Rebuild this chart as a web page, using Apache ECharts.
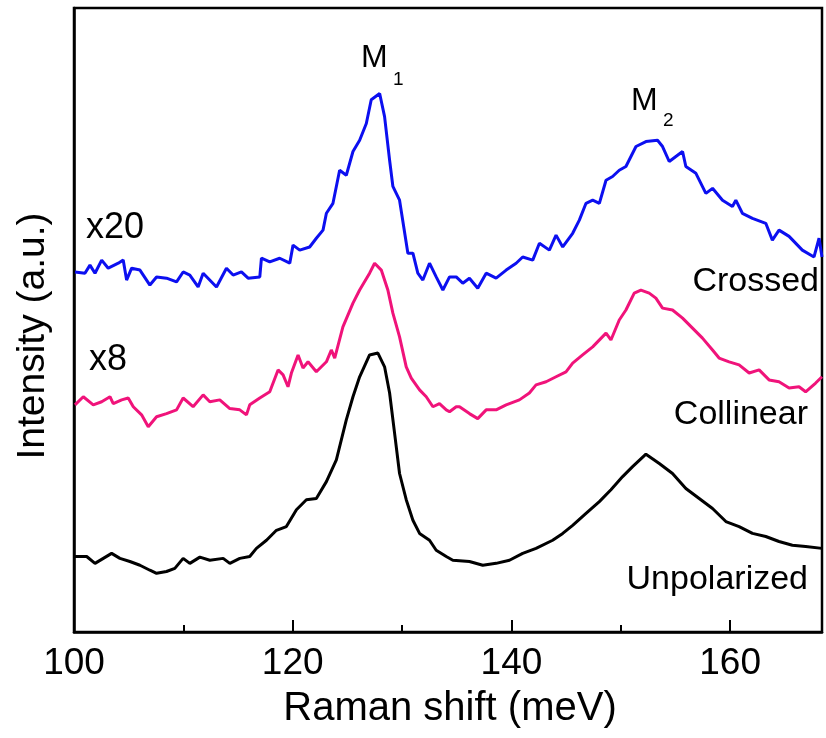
<!DOCTYPE html>
<html>
<head>
<meta charset="utf-8">
<script src="https://cdn.jsdelivr.net/npm/echarts@6/dist/echarts.min.js"></script>
<style>
  html, body { margin: 0; padding: 0; background: #fff; }
  #chart { width: 826px; height: 738px; }
</style>
</head>
<body>
<div id="chart"></div>
<script>
// Raman shift (meV) vs intensity (a.u., offset for each polarization)
const xTicks = [100, 120, 140, 160];

const unpolarized = [
  [100.09, 12.1], [101.16, 12.1], [101.92, 11.0], [102.68, 11.8], [103.44, 12.6],
  [104.2, 11.8], [105.11, 11.3], [106.03, 10.7], [106.94, 9.9], [107.55, 9.4],
  [108.46, 9.7], [109.22, 10.2], [109.98, 11.8], [110.59, 11.0], [111.51, 12.0],
  [112.42, 11.5], [113.64, 11.8], [114.25, 11.0], [115.16, 11.8], [116.07, 12.1],
  [116.68, 13.4], [117.6, 14.7], [118.51, 16.3], [119.42, 16.9], [120.34, 19.6],
  [121.25, 21.2], [122.16, 21.4], [123.08, 24.1], [123.99, 27.6], [124.9, 34.0],
  [125.51, 37.7], [126.12, 40.9], [127.03, 44.4], [127.79, 44.7], [128.4, 42.5],
  [128.86, 38.3], [129.32, 31.8], [129.77, 25.4], [130.38, 21.2], [130.99, 17.9],
  [131.6, 15.8], [132.51, 14.7], [133.12, 13.1], [134.04, 12.1], [134.64, 11.5],
  [136.16, 11.3], [137.38, 10.7], [138.6, 11.0], [139.82, 11.5], [141.03, 12.6],
  [142.25, 13.4], [143.77, 14.7], [144.69, 15.8], [145.6, 17.1], [146.82, 19.0],
  [148.04, 20.9], [149.1, 22.8], [150.17, 24.9], [151.08, 26.5], [152.3, 28.5],
  [153.52, 27.0], [154.73, 25.4], [155.95, 23.0], [157.17, 21.4], [158.39, 19.8],
  [159.61, 17.7], [160.82, 16.9], [162.04, 15.8], [163.26, 15.3], [164.47, 14.5],
  [165.69, 13.9], [166.91, 13.7], [168.4, 13.4]
];

const collinear = [
  [100.09, 36.4], [100.85, 37.7], [101.76, 36.4], [102.53, 36.9], [103.29, 37.7],
  [103.59, 36.6], [104.36, 37.2], [104.96, 37.5], [105.42, 36.1], [106.18, 34.8],
  [106.79, 32.9], [107.55, 34.5], [108.46, 35.0], [109.38, 35.6], [109.98, 37.5],
  [110.89, 36.1], [111.81, 38.0], [112.42, 36.9], [113.33, 37.2], [114.25, 35.8],
  [115.16, 35.6], [115.77, 34.8], [116.07, 36.4], [116.99, 37.5], [117.9, 38.5],
  [118.66, 42.0], [119.12, 41.2], [119.57, 39.3], [119.88, 41.5], [120.49, 44.4],
  [120.94, 42.3], [121.4, 43.3], [122.16, 41.7], [123.08, 43.3], [123.53, 45.2],
  [123.84, 43.9], [124.59, 48.9], [125.51, 52.7], [126.12, 54.8], [127.03, 57.5],
  [127.49, 59.1], [128.1, 58.0], [128.7, 54.8], [129.16, 51.1], [129.77, 47.3],
  [130.38, 42.5], [130.84, 40.7], [131.6, 38.8], [132.21, 37.7], [132.82, 36.1],
  [133.42, 36.6], [134.04, 35.6], [134.34, 35.3], [134.95, 36.1], [135.25, 36.1],
  [136.16, 35.0], [136.92, 34.2], [137.69, 35.6], [138.6, 35.6], [139.52, 36.4],
  [140.73, 37.2], [141.64, 38.3], [142.25, 39.6], [143.17, 40.1], [144.08, 40.9],
  [144.99, 41.7], [145.6, 43.1], [146.51, 44.4], [147.43, 45.7], [148.65, 47.9],
  [149.1, 46.8], [149.86, 50.0], [150.47, 51.6], [151.23, 54.3], [151.84, 54.8],
  [152.6, 54.3], [153.21, 53.5], [153.82, 51.9], [154.73, 51.6], [155.65, 50.3],
  [156.56, 48.7], [157.47, 47.1], [158.39, 45.2], [158.99, 43.9], [159.91, 43.3],
  [160.82, 42.8], [161.74, 41.5], [162.65, 42.0], [163.56, 40.4], [164.47, 40.1],
  [165.39, 39.1], [166.3, 39.3], [166.9, 38.5], [167.82, 39.9], [168.4, 40.9]
];

const crossed = [
  [100.09, 57.7], [100.24, 57.7], [101.0, 57.5], [101.46, 58.8], [101.92, 57.5],
  [102.53, 59.6], [103.13, 58.3], [104.05, 59.1], [104.5, 59.6], [104.81, 56.4],
  [105.27, 58.3], [106.03, 58.0], [106.94, 55.6], [107.55, 56.9], [108.46, 56.7],
  [109.38, 56.1], [109.98, 57.7], [110.59, 57.2], [111.35, 55.3], [111.81, 57.5],
  [113.03, 55.3], [113.94, 58.3], [114.55, 57.2], [115.31, 57.7], [115.92, 56.7],
  [116.99, 56.9], [117.14, 59.9], [117.9, 59.3], [118.81, 59.9], [119.73, 59.1],
  [120.03, 62.0], [120.64, 61.2], [121.55, 61.7], [122.16, 63.1], [122.77, 64.4],
  [123.08, 67.1], [123.68, 68.7], [124.29, 74.0], [124.9, 73.2], [125.51, 77.0],
  [126.12, 78.8], [126.73, 81.5], [127.18, 85.3], [127.95, 86.3], [128.4, 82.6],
  [128.86, 75.6], [129.16, 71.4], [129.77, 69.2], [130.53, 60.7], [130.99, 60.7],
  [131.44, 57.5], [131.9, 56.4], [132.51, 59.1], [133.12, 56.9], [133.73, 54.8],
  [134.34, 56.9], [134.95, 56.9], [135.55, 55.9], [136.16, 56.7], [136.92, 55.1],
  [137.69, 57.5], [138.6, 56.7], [139.52, 58.0], [140.43, 59.1], [141.03, 60.1],
  [141.95, 59.6], [142.56, 62.3], [143.47, 61.2], [144.08, 63.6], [144.69, 61.7],
  [145.6, 63.9], [146.21, 66.0], [146.82, 68.7], [147.43, 69.2], [148.04, 68.7],
  [148.65, 72.4], [149.25, 73.0], [149.86, 74.0], [150.47, 74.6], [151.39, 77.8],
  [152.3, 78.6], [153.36, 78.8], [153.82, 77.8], [154.43, 75.4], [155.04, 76.2],
  [155.65, 77.0], [155.95, 74.6], [156.87, 73.5], [157.78, 70.3], [158.39, 71.1],
  [159.3, 69.2], [160.21, 68.2], [160.52, 69.2], [161.12, 67.1], [162.04, 66.3],
  [163.26, 65.5], [163.86, 62.8], [164.47, 64.4], [165.39, 63.4], [166.6, 61.2],
  [167.67, 60.1], [168.13, 63.1], [168.4, 60.1]
];

const font = '"Liberation Sans", Arial, sans-serif';

var myChart = echarts.init(document.getElementById("chart"));
var option = {
  animation: false,
  grid: {
    left: 74,
    right: 4,
    top: 8,
    bottom: 106,
    show: true,
    borderColor: "#000",
    borderWidth: 2.5,
  },
  xAxis: {
    type: "value",
    min: xTicks[0],
    max: 168.4,
    interval: 20,
    axisLine: { lineStyle: { color: "#000", width: 2.5 } },
    axisTick: { inside: true, length: 12, lineStyle: { color: "#000", width: 2 } },
    minorTick: { show: true, splitNumber: 2, length: 7, lineStyle: { color: "#000", width: 2 } },
    splitLine: { show: false },
    axisLabel: {
      color: "#000",
      fontSize: 37,
      fontFamily: font,
      margin: 13,
      showMaxLabel: false,
      formatter: (v) => (xTicks.includes(v) ? String(v) : ""),
    },
  },
  yAxis: {
    type: "value",
    min: 0,
    max: 100,
    axisLine: { show: true, lineStyle: { color: "#000", width: 2.5 } },
    axisTick: { show: false },
    axisLabel: { show: false },
    splitLine: { show: false },
  },
  series: [
    {
      name: "Unpolarized",
      type: "line",
      data: unpolarized,
      showSymbol: false,
      lineStyle: { width: 3, color: "#000" },
    },
    {
      name: "Collinear",
      type: "line",
      data: collinear,
      showSymbol: false,
      lineStyle: { width: 3, color: "#f0137a" },
    },
    {
      name: "Crossed",
      type: "line",
      data: crossed,
      showSymbol: false,
      lineStyle: { width: 3, color: "#0c0ff0" },
    },
  ],
  graphic: [
    { type: "text", x: 450, y: 709, style: { text: "Raman shift (meV)", font: "40px " + font, fill: "#000", align: "center", verticalAlign: "middle" } },
    { type: "text", x: 33, y: 336, rotation: Math.PI / 2, style: { text: "Intensity (a.u.)", font: "39px " + font, fill: "#000", align: "center", verticalAlign: "middle" } },
    { type: "text", x: 361, y: 58, style: { text: "M", font: "32px " + font, fill: "#000", align: "left", verticalAlign: "middle" } },
    { type: "text", x: 393, y: 80, style: { text: "1", font: "19px " + font, fill: "#000", align: "left", verticalAlign: "middle" } },
    { type: "text", x: 631, y: 101, style: { text: "M", font: "32px " + font, fill: "#000", align: "left", verticalAlign: "middle" } },
    { type: "text", x: 663, y: 121, style: { text: "2", font: "19px " + font, fill: "#000", align: "left", verticalAlign: "middle" } },
    { type: "text", x: 86, y: 228, style: { text: "x20", font: "36px " + font, fill: "#000", align: "left", verticalAlign: "middle" } },
    { type: "text", x: 89, y: 360, style: { text: "x8", font: "36px " + font, fill: "#000", align: "left", verticalAlign: "middle" } },
    { type: "text", x: 819, y: 282, style: { text: "Crossed", font: "34px " + font, fill: "#000", align: "right", verticalAlign: "middle" } },
    { type: "text", x: 808, y: 415, style: { text: "Collinear", font: "34px " + font, fill: "#000", align: "right", verticalAlign: "middle" } },
    { type: "text", x: 808, y: 580, style: { text: "Unpolarized", font: "34px " + font, fill: "#000", align: "right", verticalAlign: "middle" } },
  ],
};
myChart.setOption(option);
</script>
</body>
</html>
